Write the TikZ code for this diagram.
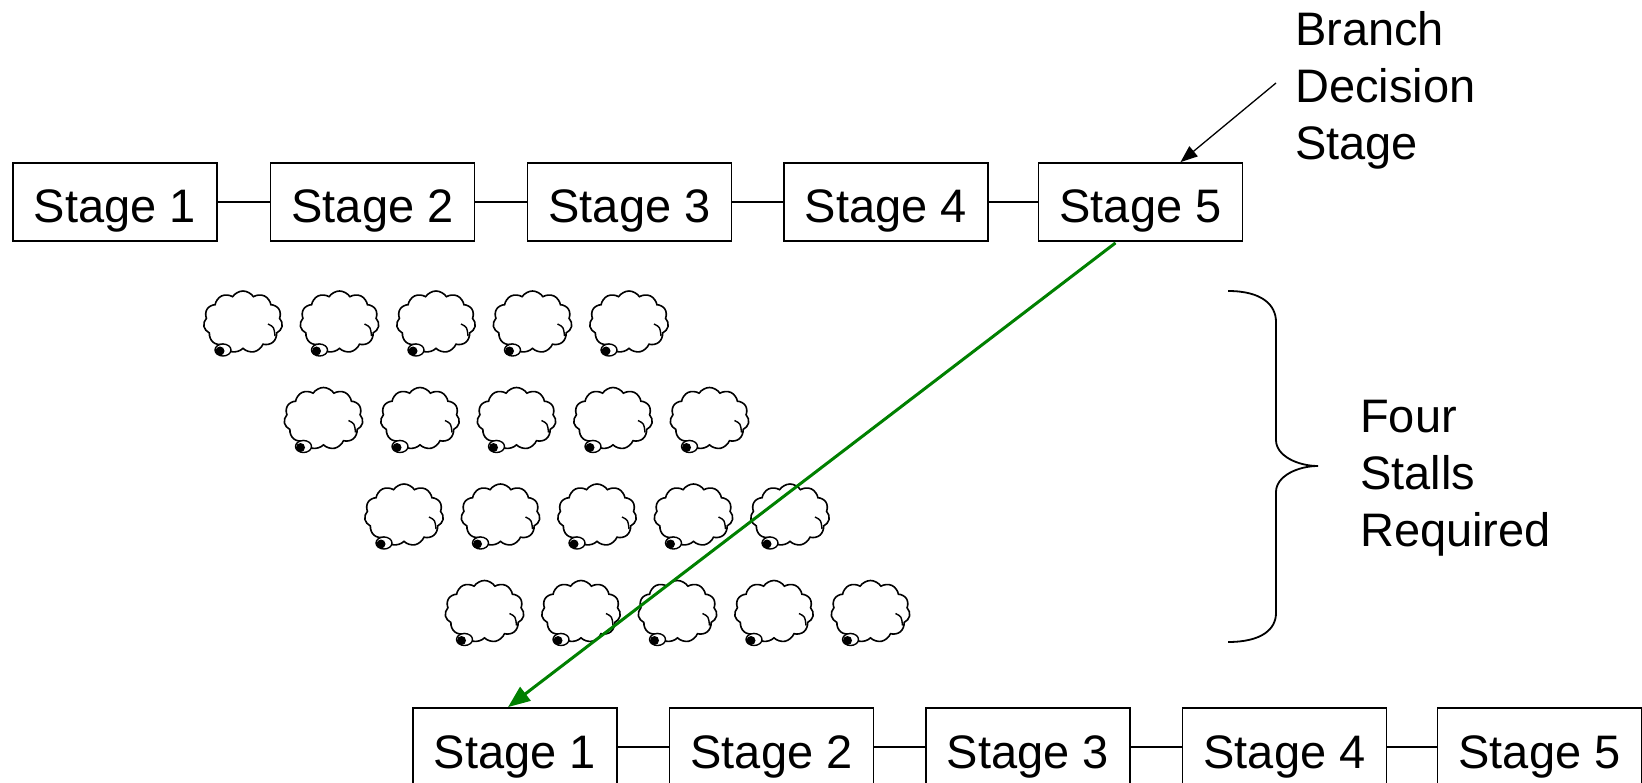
\documentclass[tikz,border=0pt]{standalone}
\usepackage{fontspec}
\setmainfont{Liberation Sans}
\usetikzlibrary{arrows.meta,shapes.symbols,calc}
\definecolor{branchgreen}{RGB}{0,128,0}

\begin{document}
\begin{tikzpicture}[x=1pt,y=-1pt,
  stagebox/.style={draw,line width=1.8pt,minimum width=204pt,minimum height=78pt,
    inner sep=0pt,text height=42pt,text depth=0pt,font=\fontsize{47}{57}\selectfont},
  link/.style={line width=1.4pt},
  note/.style={anchor=base west,align=left,inner sep=0pt,font=\fontsize{47}{57}\selectfont},
  puff/.style={cloud,cloud puffs=11,cloud puff arc=115,aspect=1.3,draw,line width=1.6pt,
    minimum width=79pt,minimum height=62pt,inner sep=0pt},
  curl/.style={line width=1.4pt},
]
\useasboundingbox (0,0) rectangle (1642,783);

% first instruction: the pipeline stages
\foreach \i/\x in {1/115,2/372.5,3/629.5,4/886,5/1140.5}
  \node[stagebox] (t\i) at (\x,202) {Stage \i};
\foreach \a/\b in {1/2,2/3,3/4,4/5}
  \draw[link] (t\a.east) -- (t\b.west);

% next instruction after the branch resolves
\foreach \i/\x in {1/515,2/771.5,3/1028,4/1284.5,5/1539.5}
  \node[stagebox] (b\i) at (\x,747) {Stage \i};
\foreach \a/\b in {1/2,2/3,3/4,4/5}
  \draw[link] (b\a.east) -- (b\b.west);

% stall bubbles
\foreach \r in {0,...,3}{
  \foreach \c in {0,...,4}{
    \node[puff] (cl-\r-\c) at ({243+80.5*\r+96.5*\c},{322+96.5*\r}) {};
    \draw[curl] ($(cl-\r-\c.center)+(25,2)$) .. controls ($(cl-\r-\c.center)+(31,5)$) .. ($(cl-\r-\c.center)+(32,14)$);
    \draw[curl,fill=white] ($(cl-\r-\c.center)+(-20,28)$) ellipse (8pt and 6pt);
    \fill ($(cl-\r-\c.center)+(-23,29)$) circle (4.5pt);
  }
}

% annotation: branch decision stage (anchored at the last baseline)
\node[note] (bd) at (1295,160) {Branch\\Decision\\Stage};
\coordinate (bdtail) at (1276,83);
\draw[line width=1.3pt,-{Triangle[length=17pt,width=13pt]}] (bdtail) -- ($(t5.north)+(40,0)$);

% branch target fetch
\draw[branchgreen,line width=3pt,-{Triangle[length=22pt,width=17pt]}]
  ($(t5.south)+(-25,1)$) -- ($(b1.north)+(-7,0)$);

% brace and its label
\draw[line width=1.8pt]
  (1228,291) .. controls (1262,291) and (1276,305) .. (1276,322) -- (1276,440)
  .. controls (1276,456) and (1298,466) .. (1318,466)
  .. controls (1298,466) and (1276,476) .. (1276,492) -- (1276,613)
  .. controls (1276,629) and (1262,642) .. (1228,642);
\node[note] (stalls) at (1360,546) {Four\\Stalls\\Required};
\end{tikzpicture}
\end{document}
